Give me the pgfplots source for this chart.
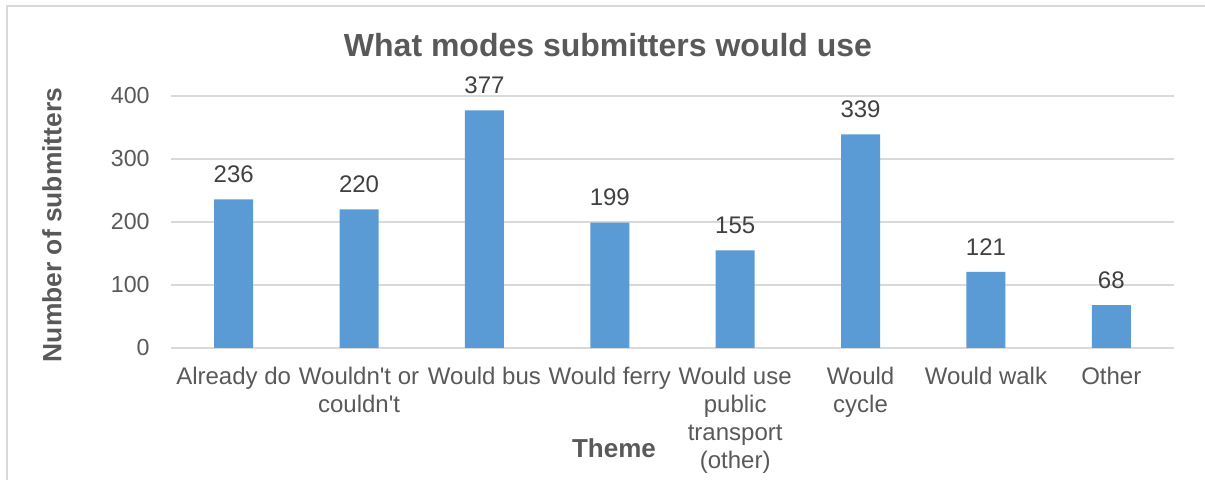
\documentclass[border=0pt]{standalone}
\usepackage{fontspec}
\setmainfont{Liberation Sans}
\usepackage{pgfplots}
\pgfplotsset{compat=1.18}
\definecolor{barblue}{HTML}{5B9BD5}
\definecolor{txtgray}{HTML}{595959}
\definecolor{gridgray}{HTML}{D9D9D9}
\definecolor{valgray}{HTML}{404040}

\begin{document}
\begin{tikzpicture}
\useasboundingbox (0,0) rectangle (602.5pt,-240pt);
% chart frame (top and left edges visible)
\draw[gridgray, line width=0.75pt] (3.5pt,-240pt) -- (3.5pt,-3pt) -- (602.5pt,-3pt);
\begin{axis}[
    at={(85.5pt,-174pt)}, anchor=south west,
    width=501.5pt, height=126pt, scale only axis,
    xmin=-0.5, xmax=7.5, ymin=0, ymax=400,
    ybar, bar width=19.5pt,
    axis line style={draw=none},
    ymajorgrids, grid style={gridgray, line width=0.75pt},
    ytick={0,100,200,300,400},
    xtick={0,...,7},
    xticklabels={Already do,
        {Wouldn\textquotesingle t or\\couldn\textquotesingle t},
        Would bus, Would ferry,
        {Would use\\public\\transport\\(other)},
        {Would\\cycle}, Would walk, Other},
    major tick length=0pt,
    /pgf/number format/assume math mode=true,
    tick label style={text=txtgray},
    yticklabel style={font=\fontsize{11.6}{13}\selectfont, inner sep=0pt, xshift=-10.5pt},
    xticklabel style={font=\fontsize{12}{14}\selectfont, inner sep=0pt, yshift=-9.5pt, align=center, anchor=north},
    nodes near coords,
    nodes near coords style={font=\fontsize{12}{14}\selectfont, text=valgray, inner sep=0pt, yshift=8pt},
    clip=false,
]
\addplot[fill=barblue, draw=none] coordinates {(0,236) (1,220) (2,377) (3,199) (4,155) (5,339) (6,121) (7,68)};
\end{axis}
\node[anchor=base, text=txtgray, font=\fontsize{16}{19}\selectfont\bfseries] at (304pt,-28.5pt) {What modes submitters would use};
\node[rotate=90, text=txtgray, font=\fontsize{13.2}{16}\selectfont\bfseries] at (26pt,-112.5pt) {Number of submitters};
\node[anchor=base, text=txtgray, font=\fontsize{13}{16}\selectfont\bfseries] at (307pt,-229pt) {Theme};
\end{tikzpicture}
\end{document}
